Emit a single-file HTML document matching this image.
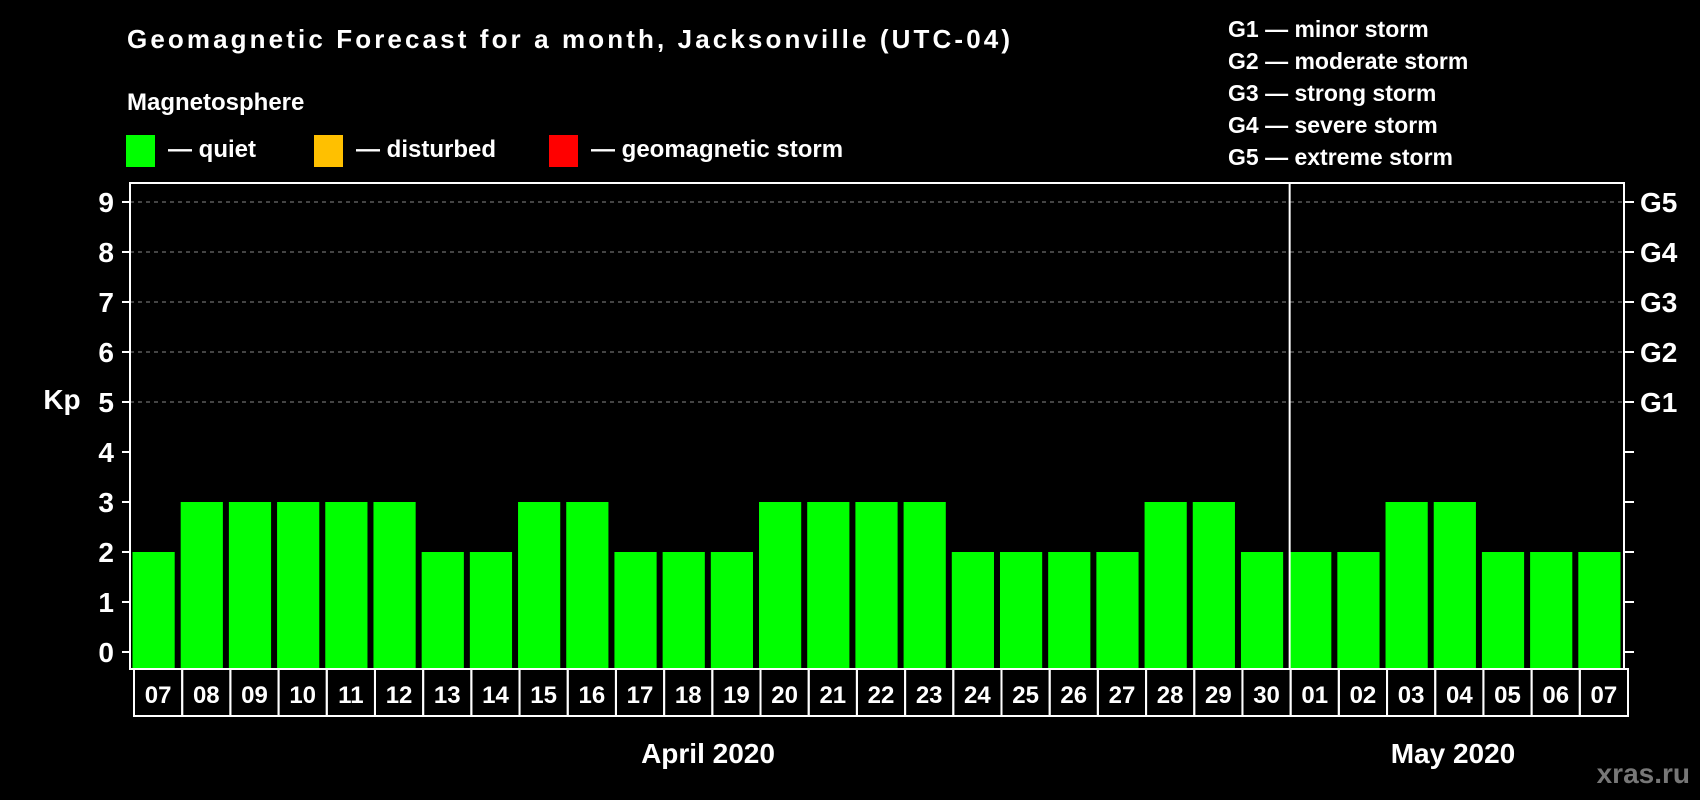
<!DOCTYPE html>
<html><head><meta charset="utf-8"><style>
html,body{margin:0;padding:0;background:#000;}
svg{display:block;font-family:"Liberation Sans",Arial,sans-serif;font-weight:bold;}
</style></head><body>
<svg id="chart" width="1700" height="800" viewBox="0 0 1700 800">
<rect width="1700" height="800" fill="#000"/>
<text x="127" y="48" fill="#fff" font-size="26" textLength="883">Geomagnetic Forecast for a month, Jacksonville (UTC-04)</text>
<text x="127" y="110" fill="#fff" font-size="24">Magnetosphere</text>
<rect x="126" y="135" width="29" height="32" fill="#00ff00"/>
<text x="168" y="157" fill="#fff" font-size="24">— quiet</text>
<rect x="314" y="135" width="29" height="32" fill="#ffc000"/>
<text x="356" y="157" fill="#fff" font-size="24">— disturbed</text>
<rect x="549" y="135" width="29" height="32" fill="#ff0000"/>
<text x="591" y="157" fill="#fff" font-size="24">— geomagnetic storm</text>
<g font-size="23" fill="#fff">
<text x="1228" y="37">G1 — minor storm</text>
<text x="1228" y="69">G2 — moderate storm</text>
<text x="1228" y="101">G3 — strong storm</text>
<text x="1228" y="133">G4 — severe storm</text>
<text x="1228" y="165">G5 — extreme storm</text>
</g>
<text x="62" y="409" fill="#fff" font-size="28" text-anchor="middle">Kp</text>
<g id="plot"></g>
<text x="708" y="763" fill="#fff" font-size="28" text-anchor="middle">April 2020</text>
<text x="1453" y="763" fill="#fff" font-size="28" text-anchor="middle">May 2020</text>
<text x="1690" y="783" fill="#777" font-size="28" text-anchor="end">xras.ru</text>
</svg>
<script>
const days = ["07","08","09","10","11","12","13","14","15","16","17","18","19","20","21","22","23","24","25","26","27","28","29","30","01","02","03","04","05","06","07"];
const kpValues = [2,3,3,3,3,3,2,2,3,3,2,2,2,3,3,3,3,2,2,2,2,3,3,2,2,2,3,3,2,2,2];
const yTicks = [0,1,2,3,4,5,6,7,8,9];
const gLevels = [5,6,7,8,9];
const gLabels = ["G1","G2","G3","G4","G5"];
const monthBreakIndex = 24;

const NS = "http://www.w3.org/2000/svg";
const g = document.getElementById("plot");
const L = 130, R = 1624, T = 183, B = 669, rowB = 717;
const slot = (R - L) / days.length;
const y = v => 652 - v * 50;
const x = i => L + i * slot;
function mk(tag, attrs) { const e = document.createElementNS(NS, tag); for (const k in attrs) e.setAttribute(k, attrs[k]); g.appendChild(e); return e; }
function color(v) { return v >= 5 ? "#ff0000" : v >= 4 ? "#ffc000" : "#00ff00"; }

yTicks.forEach(t => {
  if (t >= 5) {
    const gl = mk("line", {x1: L, x2: R, y1: y(t), y2: y(t), stroke: "#888", "stroke-width": 1, "stroke-dasharray": "4,4"});
    
    
  }
  const tk = mk("line", {x1: L - 8, x2: L, y1: y(t), y2: y(t), stroke: "#fff", "stroke-width": 2});
  
  
  const tr = mk("line", {x1: R, x2: R + 10, y1: y(t), y2: y(t), stroke: "#fff", "stroke-width": 2});
  
  
  const lb = mk("text", {x: 114, y: y(t) + 10, fill: "#fff", "font-size": 28, "text-anchor": "end"});
  lb.textContent = t;
  
  
});
gLevels.forEach((lv, i) => {
  const t = mk("text", {x: 1640, y: y(lv) + 10, fill: "#fff", "font-size": 28});
  t.textContent = gLabels[i];
  
  
});
kpValues.forEach((v, i) => {
  const b = mk("rect", {x: x(i) + 2.5, y: y(v), width: slot - 6, height: B - y(v), fill: color(v)});
  
  
  const c = mk("rect", {x: x(i) + 4, y: B, width: slot, height: rowB - B - 1, fill: "none", stroke: "#fff", "stroke-width": 2});
  
  
  const d = mk("text", {x: x(i) + 4 + slot / 2, y: 703, fill: "#fff", "font-size": 24, "text-anchor": "middle"});
  d.textContent = days[i];
  
  
});
const frame = mk("rect", {x: L, y: T, width: R - L, height: B - T, fill: "none", stroke: "#fff", "stroke-width": 2});


const div = mk("line", {x1: x(monthBreakIndex) + 3, x2: x(monthBreakIndex) + 3, y1: T, y2: B, stroke: "#fff", "stroke-width": 2});


</script>
</body></html>
